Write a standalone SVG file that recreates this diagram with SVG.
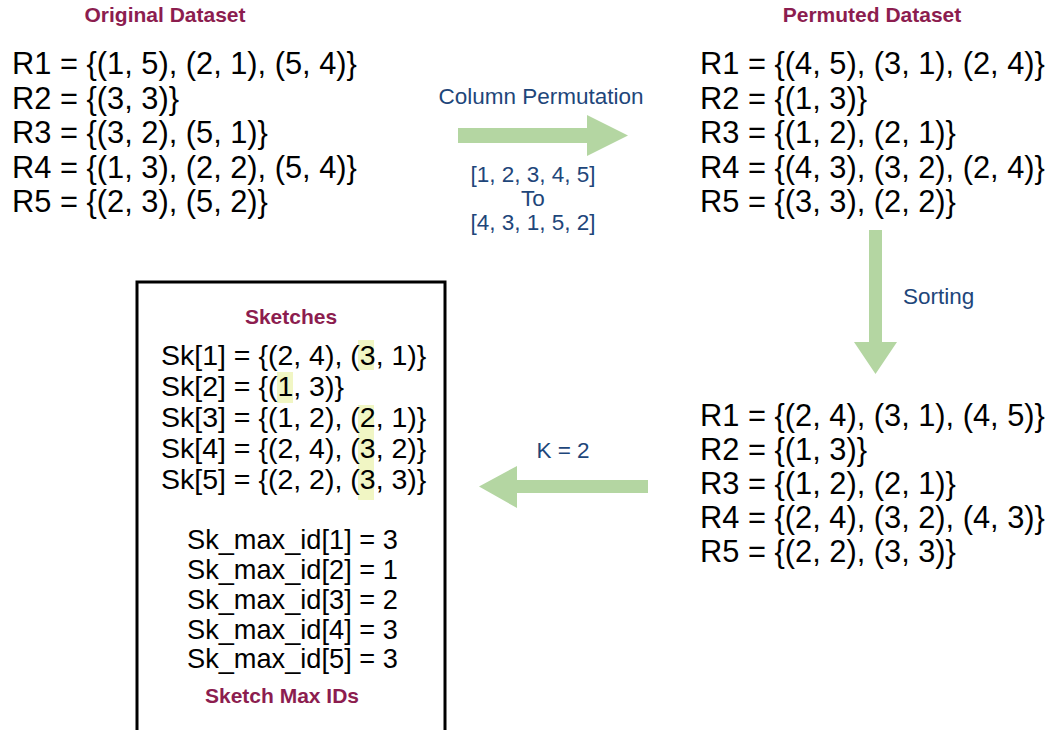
<svg xmlns="http://www.w3.org/2000/svg" width="1055" height="730" viewBox="0 0 1055 730">
<style>
.title{font-family:"Liberation Sans",Arial,Helvetica,sans-serif;font-weight:bold;fill:#8C1D4F;font-size:21px}
.big{font-family:"Liberation Sans",Arial,Helvetica,sans-serif;fill:#000;font-size:30.8px}
.sk{font-family:"Liberation Sans",Arial,Helvetica,sans-serif;fill:#000;font-size:28.5px}
.mx{font-family:"Liberation Sans",Arial,Helvetica,sans-serif;fill:#000;font-size:27.2px}
.lbl{font-family:"Liberation Sans",Arial,Helvetica,sans-serif;fill:#1E467A;font-size:22.5px}
.arrow{fill:#B4D6A2}
.hl{fill:#F1F6C4}
</style>
<rect width="1055" height="730" fill="#fff"/>
<g id="original">
<text class="title" x="165" y="22" text-anchor="middle">Original Dataset</text>
<text class="big" x="12" y="74">R1 = {(1, 5), (2, 1), (5, 4)}</text>
<text class="big" x="12" y="108.5">R2 = {(3, 3)}</text>
<text class="big" x="12" y="143">R3 = {(3, 2), (5, 1)}</text>
<text class="big" x="12" y="177.5">R4 = {(1, 3), (2, 2), (5, 4)}</text>
<text class="big" x="12" y="212">R5 = {(2, 3), (5, 2)}</text>
</g>
<g id="permuted">
<text class="title" x="872" y="22" text-anchor="middle">Permuted Dataset</text>
<text class="big" x="700" y="74">R1 = {(4, 5), (3, 1), (2, 4)}</text>
<text class="big" x="700" y="108.5">R2 = {(1, 3)}</text>
<text class="big" x="700" y="143">R3 = {(1, 2), (2, 1)}</text>
<text class="big" x="700" y="177.5">R4 = {(4, 3), (3, 2), (2, 4)}</text>
<text class="big" x="700" y="212">R5 = {(3, 3), (2, 2)}</text>
</g>
<g id="sorted">
<text class="big" x="700" y="426">R1 = {(2, 4), (3, 1), (4, 5)}</text>
<text class="big" x="700" y="460">R2 = {(1, 3)}</text>
<text class="big" x="700" y="494">R3 = {(1, 2), (2, 1)}</text>
<text class="big" x="700" y="528">R4 = {(2, 4), (3, 2), (4, 3)}</text>
<text class="big" x="700" y="562">R5 = {(2, 2), (3, 3)}</text>
</g>
<g id="sketches">
<rect x="137" y="282" width="308" height="460" fill="none" stroke="#000" stroke-width="3"/>
<rect class="hl" x="358" y="340" width="16" height="30"/>
<rect class="hl" x="277" y="372" width="16" height="31"/>
<rect class="hl" x="358" y="405" width="16" height="95"/>
<text class="title" x="291" y="324" text-anchor="middle">Sketches</text>
<text class="sk" x="161" y="365">Sk[1] = {(2, 4), (3, 1)}</text>
<text class="sk" x="161" y="396">Sk[2] = {(1, 3)}</text>
<text class="sk" x="161" y="427">Sk[3] = {(1, 2), (2, 1)}</text>
<text class="sk" x="161" y="458">Sk[4] = {(2, 4), (3, 2)}</text>
<text class="sk" x="161" y="489">Sk[5] = {(2, 2), (3, 3)}</text>
<text class="mx" x="187" y="549">Sk_max_id[1] = 3</text>
<text class="mx" x="187" y="579">Sk_max_id[2] = 1</text>
<text class="mx" x="187" y="609">Sk_max_id[3] = 2</text>
<text class="mx" x="187" y="639">Sk_max_id[4] = 3</text>
<text class="mx" x="187" y="668">Sk_max_id[5] = 3</text>
<text class="title" x="282" y="703" text-anchor="middle">Sketch Max IDs</text>
</g>
<g id="connectors">
<polygon class="arrow" points="458,128 587,128 587,115 628,135.5 587,156 587,143 458,143"/>
<text class="lbl" x="541" y="104" text-anchor="middle">Column Permutation</text>
<text class="lbl" x="533" y="182" text-anchor="middle">[1, 2, 3, 4, 5]</text>
<text class="lbl" x="533" y="206" text-anchor="middle">To</text>
<text class="lbl" x="533" y="230" text-anchor="middle">[4, 3, 1, 5, 2]</text>
<polygon class="arrow" points="869,230 882,230 882,342 897,342 875.5,374 854,342 869,342"/>
<text class="lbl" x="903" y="304">Sorting</text>
<polygon class="arrow" points="648,480 517,480 517,466 479,486.5 517,508 517,493 648,493"/>
<text class="lbl" x="563" y="458" text-anchor="middle">K = 2</text>
</g>
</svg>
